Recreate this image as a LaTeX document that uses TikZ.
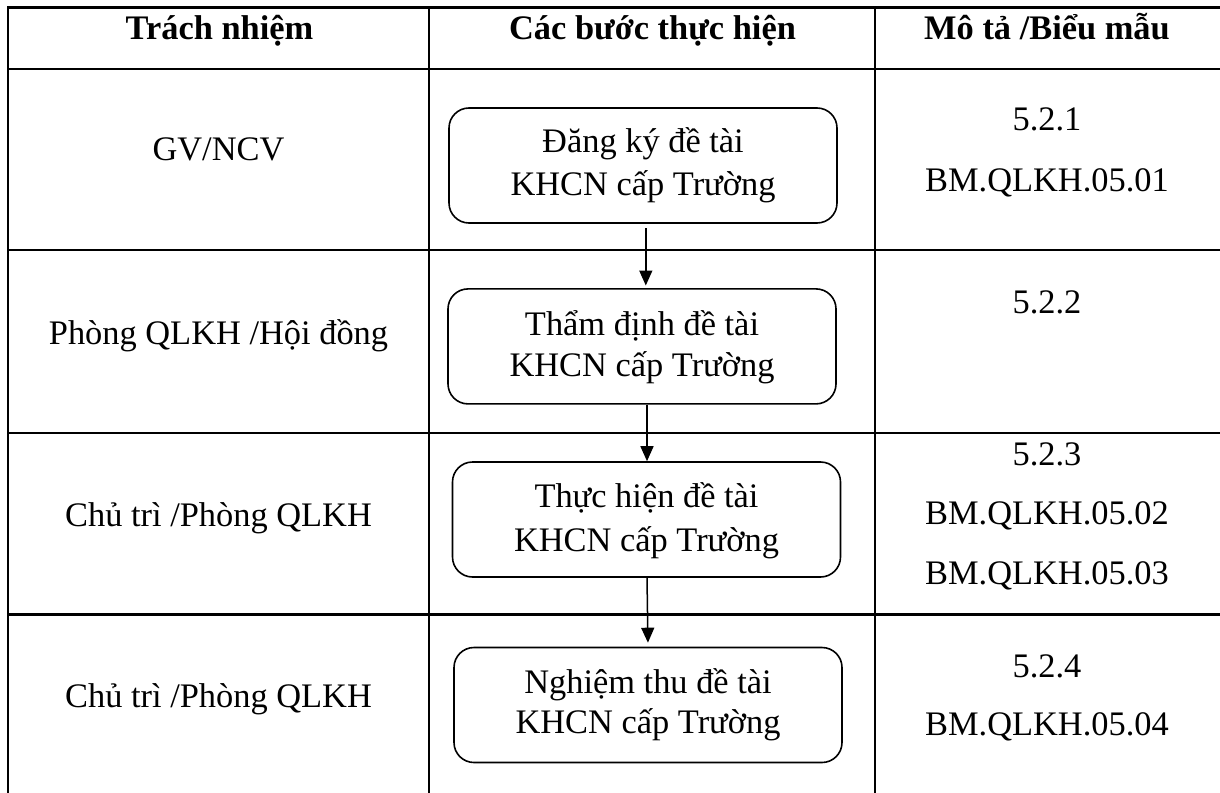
\documentclass[tikz,border=0pt]{standalone}
\usepackage{fontspec}
\setmainfont{Liberation Serif}
\usetikzlibrary{arrows.meta}
\begin{document}
\begin{tikzpicture}[x=0.5pt,y=-0.5pt,
  gridline/.style={line width=1.35pt, line cap=rect},
  stepbox/.style={draw, line width=0.8pt, rounded corners=10pt, minimum width=194pt, minimum height=57.5pt, inner sep=0pt},
  txt/.style={anchor=base, inner sep=0pt, font=\fontsize{17.2}{20}\selectfont},
  hdr/.style={anchor=base, inner sep=0pt, font=\fontsize{17.2}{20}\selectfont\bfseries},
  arr/.style={line width=0.75pt, -{Triangle[length=7.5pt,width=6.5pt]}}]
\useasboundingbox (0,0) rectangle (1220,792);
% table grid
\draw[gridline] (8,7.3) -- (1222,7.3);
\foreach \yy in {69,250,433,614.5} \draw[gridline] (8,\yy) -- (1222,\yy);
\foreach \xx in {8,429,875} \draw[gridline] (\xx,7.3) -- (\xx,795);
% header
\node[hdr] (h1) at (219.5,40) {Trách nhiệm};
\node[hdr] (h2) at (652.5,40) {Các bước thực hiện};
\node[hdr] (h3) at (1047,40) {Mô tả /Biểu mẫu};
% responsibility column
\node[txt] (r1) at (218.5,161) {GV/NCV};
\node[txt] (r2) at (218.5,344) {Phòng QLKH /Hội đồng};
\node[txt] (r3) at (218.5,526) {Chủ trì /Phòng QLKH};
\node[txt] (r4) at (218.5,707) {Chủ trì /Phòng QLKH};
% step boxes
\node[stepbox] (b1) at (643,165.5) {};
\node[stepbox] (b2) at (642,346.4) {};
\node[stepbox] (b3) at (646.5,519.5) {};
\node[stepbox] (b4) at (648,705) {};
\node[txt] (b1a) at (643,153) {Đăng ký đề tài};
\node[txt] (b1b) at (643,195) {KHCN cấp Trường};
\node[txt] (b2a) at (642,335) {Thẩm định đề tài};
\node[txt] (b2b) at (642,376) {KHCN cấp Trường};
\node[txt] (b3a) at (646.5,507) {Thực hiện đề tài};
\node[txt] (b3b) at (646.5,551.5) {KHCN cấp Trường};
\node[txt] (b4a) at (648,693) {Nghiệm thu đề tài};
\node[txt] (b4b) at (648,733) {KHCN cấp Trường};
% arrows
\draw[arr, shorten <=2.3pt, shorten >=1.3pt] ([xshift=1.4pt]b1.south) -- ([xshift=1.4pt]b1.south |- b2.north);
\draw[arr] ([xshift=0.25pt]b3.north |- b2.south) -- ([xshift=0.25pt]b3.north);
\draw[arr, shorten >=2pt] ([xshift=0.25pt]b3.south) -- (b4.north);
% description column
\node[txt] (d1a) at (1047,131) {5.2.1};
\node[txt] (d1b) at (1047,191.5) {BM.QLKH.05.01};
\node[txt] (d2a) at (1047,313) {5.2.2};
\node[txt] (d3a) at (1047,465) {5.2.3};
\node[txt] (d3b) at (1047,524.5) {BM.QLKH.05.02};
\node[txt] (d3c) at (1047,584) {BM.QLKH.05.03};
\node[txt] (d4a) at (1047,677) {5.2.4};
\node[txt] (d4b) at (1047,735) {BM.QLKH.05.04};
\end{tikzpicture}
\end{document}
